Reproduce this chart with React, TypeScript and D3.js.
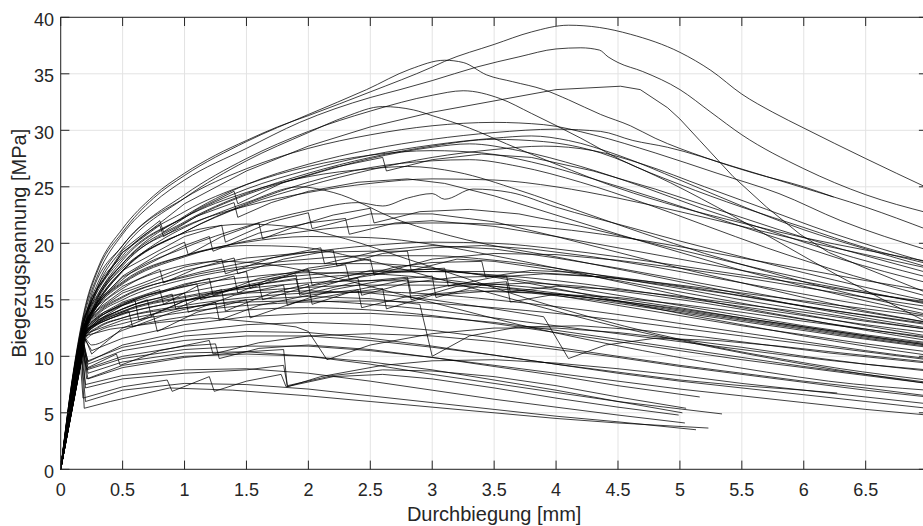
import React from 'react';
import * as d3 from 'd3';

type Pt = [number, number];

// axis ticks
const xTicks = [0, 0.5, 1, 1.5, 2, 2.5, 3, 3.5, 4, 4.5, 5, 5.5, 6, 6.5, 7];
const xTickLabels = ['0', '0.5', '1', '1.5', '2', '2.5', '3', '3.5', '4', '4.5', '5', '5.5', '6', '6.5'];
const yTicks = [0, 5, 10, 15, 20, 25, 30, 35, 40];
const yTickLabels = ['0', '5', '10', '15', '20', '25', '30', '35', '40'];
const xLabel = 'Durchbiegung [mm]';
const yLabel = 'Biegezugspannung [MPa]';

// ---- specimen curves: [Durchbiegung mm, Biegezugspannung MPa] ----
// high strength group
const u01: Pt[] = [[0,0],[0.1,8.5],[0.2,14.5],[0.3,17.8],[0.5,21.3],[0.75,24.2],[1,26.2],[1.25,27.8],[1.5,29.1],[1.75,30.3],[2,31.3],[2.5,33.4],[3,35.6],[3.1,36.1],[3.5,37.6],[3.8,38.7],[4.1,39.3],[4.35,39.1],[4.6,38.5],[5,36.9],[5.25,35.3],[5.5,33.2],[5.75,31.6],[6,30.2],[6.5,27.5],[7,24.9]];
const u02: Pt[] = [[0,0],[0.1,8.2],[0.2,14],[0.3,17.2],[0.5,20.8],[0.75,23.6],[1,25.6],[1.5,28.4],[1.93,30.7],[2.5,32.9],[2.74,33.6],[3,34.4],[3.36,35.6],[3.7,36.5],[4.0,37.2],[4.2,37.3],[4.35,37.1],[4.42,36.5],[4.5,36],[4.7,35.2],[5,33.6],[5.25,31.6],[5.5,29.6],[6,26.6],[6.5,24.3],[7,22.7]];
const u03: Pt[] = [[0,0],[0.1,8.4],[0.2,14.3],[0.3,17.6],[0.5,21],[0.75,24],[1,26],[1.5,29],[2,31.4],[2.47,33.6],[2.82,35.4],[3.1,36.2],[3.25,36.0],[3.44,34.9],[3.65,34.3],[3.9,33.6],[4.1,32.7],[4.36,31.4],[4.6,30.4],[4.8,29.3],[5.2,27.6],[5.6,26.2],[6,25],[6.24,24.1]];
const u04: Pt[] = [[0,0],[0.1,7.8],[0.2,13],[0.3,16],[0.5,19.2],[1,23.5],[1.5,26.4],[2,28.6],[2.5,30.3],[3,31.6],[3.55,32.7],[4,33.6],[4.52,33.9],[4.68,33.6],[4.9,32.0],[5.0,31.0],[5.16,29.1],[5.43,25.9],[5.7,23.2],[5.97,20.8],[6.2,19.2],[6.5,17.8],[7,15.6]];
const u05: Pt[] = [[0,0],[0.1,8],[0.2,13.5],[0.3,16.5],[0.5,19.8],[1,24.3],[1.5,27.5],[2,29.9],[2.5,31.7],[3,33.1],[3.25,33.5],[3.55,32.8],[3.8,31.5],[4.2,29.3],[4.52,27.4],[5,25.2],[5.5,23.2],[6,21.4],[6.5,19.6],[7,18.2]];
const u06: Pt[] = [[0,0],[0.1,7.9],[0.2,13.2],[0.3,16.2],[0.5,19.5],[1,24],[1.5,27.3],[2,29.8],[2.3,31.2],[2.6,32.1],[2.85,31.8],[3.0,31.3],[3.3,30.2],[3.6,28.8],[4,27.0],[4.5,24.9],[5,23.2],[5.5,21.8],[6,20.5],[6.5,19.4],[7,18.4]];
const u07: Pt[] = [[0,0],[0.1,7.5],[0.2,12.6],[0.3,15.2],[0.5,18.2],[1,22.4],[1.5,25.2],[2,27],[2.5,28.3],[3,29.2],[3.5,29.8],[4,30.1],[4.36,29.9],[4.62,29.1],[4.9,28.5],[5.43,26.8],[5.97,25.0],[6.5,23.2],[7,21.2]];
const u08: Pt[] = [[0,0],[0.1,7.6],[0.2,12.8],[0.3,15.4],[0.5,18.5],[1,22.3],[1.5,24.8],[2,26.5],[2.5,27.8],[3,28.7],[3.5,29.3],[3.8,29.5],[4.1,29.1],[4.5,27.8],[5,25.6],[5.5,23.3],[6,21.2],[6.5,19.5],[7,17.9]];
const u09: Pt[] = [[0,0],[0.1,7.3],[0.2,12.3],[0.3,15],[0.5,18],[1,21.8],[1.5,24.3],[2,26],[2.5,27.5],[3,28.5],[3.3,28.8],[3.7,28.2],[4.2,26.8],[4.7,25],[5.2,23],[5.7,21.2],[6.2,19.4],[7,17.0]];
const u10: Pt[] = [[0,0],[0.1,7.4],[0.2,12.2],[0.3,14.8],[0.5,17.6],[1,21],[1.5,23.4],[2,25.1],[2.5,26.5],[3,27.6],[3.5,28.3],[3.9,28.6],[4.3,28.2],[4.7,27],[5.2,25],[5.7,23],[6.2,21],[6.6,19.6],[7,18.3]];
const u11: Pt[] = [[0,0],[0.1,7.5],[0.2,12.5],[0.3,15.2],[0.5,18.2],[1,21.9],[1.5,24.4],[2,26.2],[2.5,27.6],[3,28.6],[3.5,29.2],[3.9,29.0],[4.36,28.0],[4.8,26],[5.3,23.2],[5.8,20.1],[6.3,17],[7,13.0]];
const u12: Pt[] = [[0,0],[0.1,7.2],[0.2,12],[0.3,14.6],[0.5,17.5],[1,21],[1.5,23.5],[2,25.4],[2.5,26.7],[3,27.3],[3.3,27.4],[3.7,26.8],[4.2,25.4],[4.7,23.6],[5.2,21.6],[5.7,19.6],[6.2,17.8],[7,15.3]];
const u13: Pt[] = [[0,0],[0.15,11],[0.25,15.5],[0.5,19.8],[1,24.0],[1.5,26.6],[2,28.4],[2.5,29.6],[3,30.4],[3.5,30.7],[3.9,30.5],[4.3,29.6],[4.8,28.0],[5.3,26.2],[5.8,24.4],[6.3,22.0],[7,19.4]];
const u14: Pt[] = [[0,0],[0.15,10.6],[0.25,14.8],[0.5,18.9],[1,22.8],[1.5,25.2],[2,26.8],[2.5,27.8],[3,28.2],[3.4,28.0],[3.8,27.2],[4.3,25.7],[4.8,24.0],[5.3,22.2],[5.8,20.4],[6.3,18.6],[7,16.5]];
const u15: Pt[] = [[0,0],[0.15,10.8],[0.25,15.2],[0.5,19.4],[0.8,22.0],[0.83,21.0],[1.1,23.0],[1.4,24.6],[1.43,23.5],[1.8,25.4],[2.2,26.7],[2.6,27.6],[2.63,26.4],[3,27.4],[3.4,27.9],[3.8,27.6],[4.3,26.4],[4.8,24.8],[5.3,23.0],[5.8,21.2],[6.3,19.5],[7,17.4]];

// upper middle group
const m01: Pt[] = [[0,0],[0.12,8.5],[0.2,12.5],[0.3,14.5],[0.5,16.8],[1,19.6],[1.5,21.5],[2,22.9],[2.4,23.6],[2.6,23.3],[2.8,24],[3.0,24.4],[3.1,23.9],[3.33,24.8],[3.63,24.5],[4.0,23.2],[4.6,21.4],[5,20.2],[5.5,18.8],[6,17.4],[6.5,16.1],[7,14.9]];
const m02: Pt[] = [[0,0],[0.1,7.6],[0.2,12.4],[0.3,14.8],[0.5,17.6],[0.8,20.2],[1,21.4],[1.3,22.8],[1.5,23.6],[1.93,25.0],[2.2,24.5],[2.74,22.0],[3.28,20.3],[4,18.8],[4.6,17.5],[5,16.6],[5.5,15.5],[6,14.4],[6.5,13.4],[7,12.5]];
const m03: Pt[] = [[0,0],[0.18,12.8],[0.3,15.5],[0.5,18.2],[1,21.5],[1.5,23.3],[2,24.5],[2.5,25.3],[3,25.7],[3.5,25.6],[4,25.0],[4.5,24.0],[5,22.8],[5.5,21.5],[6,20.2],[6.5,19.0],[7,17.8]];
const m04: Pt[] = [[0,0],[0.18,13],[0.3,15.8],[0.5,18.7],[1,22.3],[1.5,24.5],[2,25.9],[2.5,26.6],[2.8,26.8],[3.2,26.3],[3.7,24.7],[4.2,22.8],[4.7,20.9],[5.2,19.1],[5.7,17.5],[6.2,16.0],[7,14.0]];
const m05: Pt[] = [[0,0],[0.18,13.2],[0.3,16.1],[0.5,19.2],[0.8,21.6],[0.83,20.6],[1.1,22.4],[1.4,23.6],[1.43,22.3],[1.7,23.6],[2,24.6],[2.4,25.4],[2.8,25.7],[3.1,25.3],[3.5,24.2],[4,22.5],[4.5,20.8],[5,19.2],[5.5,17.6],[6,16.2],[6.5,14.9],[7,13.7]];
const m06: Pt[] = [[0,0],[0.18,12.6],[0.3,15.0],[0.5,17.6],[1,20.6],[1.3,21.6],[1.33,20.1],[1.7,21.9],[2,22.7],[2.03,21.3],[2.5,22.6],[3,22.6],[3.5,21.9],[4,20.6],[4.5,19.2],[5,17.8],[5.5,16.5],[6,15.2],[6.5,14.0],[7,13.0]];
const m07: Pt[] = [[0,0],[0.18,12.5],[0.3,14.8],[0.5,17.1],[0.8,19.1],[1.0,20.1],[1.03,19.0],[1.3,20.6],[1.6,21.8],[1.63,20.4],[1.9,21.5],[2.2,22.5],[2.5,23.1],[2.53,21.8],[2.9,22.8],[3.3,23.0],[3.7,22.6],[4.2,21.5],[4.7,20.2],[5.2,18.9],[5.7,17.6],[6.2,16.4],[7,14.6]];
const m08: Pt[] = [[0,0],[0.2,12.9],[0.3,14.5],[0.5,16.4],[1,18.8],[1.5,20.2],[2,21.1],[2.5,21.6],[3,21.8],[3.5,21.7],[4,21.3],[4.5,20.6],[5,19.7],[5.5,18.7],[6,17.7],[6.5,16.7],[7,15.8]];
const m09: Pt[] = [[0,0],[0.2,13.1],[0.3,14.9],[0.5,17.0],[1,19.8],[1.2,20.6],[1.23,19.3],[1.6,20.9],[2,21.8],[2.3,22.2],[2.33,20.8],[2.7,21.8],[3,22.0],[3.5,21.5],[4,20.6],[4.5,19.6],[5,18.6],[5.5,17.6],[6,16.6],[6.5,15.6],[7,14.7]];
const m10: Pt[] = [[0,0],[0.18,12.8],[0.3,15.3],[0.5,17.8],[0.8,20],[1.1,21.2],[1.5,21.7],[1.9,21.4],[2.3,20.4],[2.8,18.6],[3.3,16.8],[3.8,15.0],[4.3,13.4],[4.8,12.0],[5.3,10.8],[5.8,9.8],[6.3,8.9],[7,7.9]];
const m11: Pt[] = [[0,0],[0.19,12.5],[0.3,14.6],[0.5,16.6],[1,18.9],[1.5,19.8],[1.9,19.7],[2.4,18.7],[3,17.0],[3.5,15.5],[4,14.0],[4.5,12.6],[5,11.4],[5.5,10.3],[6,9.3],[6.5,8.4],[7,7.6]];
const m12: Pt[] = [[0,0],[0.19,12.3],[0.3,14.2],[0.5,16.0],[0.9,17.8],[1.3,18.4],[1.7,18.1],[2.2,17.0],[2.7,15.6],[3.2,14.2],[3.7,12.8],[4.2,11.6],[4.7,10.5],[5.2,9.5],[5.7,8.6],[6.2,7.8],[7,7.0]];
const m13: Pt[] = [[0,0],[0.2,12.9],[0.3,14.6],[0.5,16.5],[1,18.9],[1.5,20.1],[2,20.6],[2.5,20.5],[3,19.9],[3.5,18.9],[4,17.8],[4.5,16.6],[5,15.4],[5.5,14.3],[6,13.3],[6.5,12.3],[7,11.4]];
const m14: Pt[] = [[0,0],[0.19,12.7],[0.3,14.5],[0.5,16.2],[0.8,17.7],[0.83,16.5],[1.1,17.8],[1.4,18.7],[1.43,17.3],[1.8,18.6],[2.2,19.4],[2.23,18.0],[2.6,19.1],[3,19.6],[3.4,19.8],[3.8,19.5],[4.3,18.8],[4.8,17.9],[5.3,16.9],[5.8,15.9],[6.3,14.9],[7,13.6]];

// dense middle group
const d01: Pt[] = [[0,0],[0.2,12.5],[0.3,13.8],[0.5,15.2],[1,17.1],[1.5,18.3],[2,19.2],[2.5,19.8],[3,20.1],[3.5,20.0],[4,19.5],[4.5,18.8],[5,18],[5.5,17.2],[6,16.4],[6.5,15.6],[7,14.8]];
const d02: Pt[] = [[0,0],[0.2,12.2],[0.3,13.4],[0.5,14.7],[1,16.4],[1.5,17.5],[1.53,16.0],[2,17.8],[2.5,18.6],[2.53,17.2],[3,18.6],[3.5,19.1],[4,19.0],[4.5,18.5],[5,17.8],[5.5,17],[6,16.1],[6.5,15.2],[7,14.4]];
const d03: Pt[] = [[0,0],[0.2,12.4],[0.3,13.6],[0.5,14.8],[0.8,15.9],[0.83,14.6],[1.1,16.2],[1.4,17.1],[1.43,15.6],[1.7,16.9],[2,17.6],[2.3,18.1],[2.33,16.8],[2.7,17.9],[3,18.3],[3.4,18.4],[3.43,17.0],[3.8,17.6],[4.2,17.4],[4.7,16.7],[5.2,15.9],[5.7,15.0],[6.2,14.1],[7,12.8]];
const d04: Pt[] = [[0,0],[0.2,12.0],[0.3,13.0],[0.5,14.2],[1,15.6],[1.5,16.6],[2,17.2],[2.5,17.5],[3,17.5],[3.5,17.2],[4,16.7],[4.5,16],[5,15.2],[5.5,14.4],[6,13.6],[6.5,12.8],[7,12.1]];
const d05: Pt[] = [[0,0],[0.19,12.6],[0.3,13.5],[0.6,15.0],[0.63,13.2],[1,14.9],[1.3,15.9],[1.33,14.0],[1.7,15.6],[2,16.4],[2.03,14.6],[2.4,15.9],[2.8,16.8],[2.83,15.0],[3.2,16.2],[3.6,16.6],[3.63,14.8],[4,15.5],[4.5,15.2],[5,14.6],[5.5,13.9],[6,13.1],[6.5,12.4],[7,11.7]];
const d06: Pt[] = [[0,0],[0.2,11.8],[0.3,12.9],[0.5,13.9],[1,15.2],[1.5,16.0],[2,16.5],[2.5,16.7],[3,16.6],[3.5,16.2],[4,15.6],[4.5,14.8],[5,14.0],[5.5,13.2],[6,12.4],[6.5,11.6],[7,10.9]];
const d07: Pt[] = [[0,0],[0.2,12.1],[0.3,13.2],[0.5,14.5],[1,16.3],[1.2,16.9],[1.23,15.4],[1.6,16.9],[2,17.7],[2.03,16.3],[2.5,17.6],[3,17.7],[3.5,17.1],[4,16.3],[4.5,15.4],[5,14.5],[5.5,13.6],[6,12.7],[6.5,11.9],[7,11.2]];
const d08: Pt[] = [[0,0],[0.2,11.5],[0.25,10.2],[0.5,12.5],[0.75,13.6],[0.78,12.2],[1.1,13.9],[1.5,15.0],[1.53,13.4],[1.9,14.8],[2.3,15.6],[2.6,16.0],[2.63,14.2],[3,15.4],[3.5,15.8],[4,15.5],[4.5,14.9],[5,14.2],[5.5,13.4],[6,12.6],[6.5,11.8],[7,11.0]];
const d09: Pt[] = [[0,0],[0.2,11.6],[0.3,12.5],[0.5,13.4],[1,14.5],[1.5,15.2],[2,15.6],[2.5,15.7],[3,15.5],[3.5,15.0],[4,14.4],[4.5,13.7],[5,12.9],[5.5,12.1],[6,11.3],[6.5,10.5],[7,9.8]];
const d10: Pt[] = [[0,0],[0.19,12.0],[0.3,13.0],[0.6,14.4],[1.0,15.6],[1.03,13.9],[1.4,15.4],[1.8,16.3],[1.83,14.5],[2.2,15.9],[2.6,16.7],[3.0,17.1],[3.03,15.2],[3.4,16.3],[3.8,16.5],[4.2,16.2],[4.7,15.5],[5.2,14.7],[5.7,13.8],[6.2,12.9],[7,11.6]];
const d11: Pt[] = [[0,0],[0.2,12.8],[0.3,14.2],[0.5,15.8],[1,17.9],[1.3,18.6],[1.33,17.3],[1.7,18.7],[2.1,19.6],[2.13,18.2],[2.6,19.4],[3,19.8],[3.5,19.5],[4,18.7],[4.5,17.8],[5,16.8],[5.5,15.8],[6,14.8],[6.5,13.9],[7,13.0]];
const d12: Pt[] = [[0,0],[0.2,12.6],[0.3,13.9],[0.5,15.3],[1,17.0],[1.5,18.0],[2,18.6],[2.5,18.9],[3,18.9],[3.5,18.5],[4,17.8],[4.5,16.9],[5,16.0],[5.5,15.0],[6,14.1],[6.5,13.2],[7,12.4]];
const d13: Pt[] = [[0,0],[0.2,12.3],[0.35,13.5],[0.6,14.6],[0.9,15.5],[0.93,14.2],[1.2,15.5],[1.6,16.4],[1.63,15.0],[2,16.2],[2.4,16.9],[2.43,15.4],[2.8,16.5],[3.2,17.0],[3.6,17.1],[3.63,15.7],[4,16.2],[4.5,15.9],[5,15.3],[5.5,14.6],[6,13.9],[6.5,13.1],[7,12.4]];
const d14: Pt[] = [[0,0],[0.2,11.9],[0.3,12.8],[0.5,13.7],[1,14.9],[1.5,15.7],[2,16.1],[2.5,16.3],[3,16.3],[3.5,16.0],[4,15.5],[4.5,14.9],[5,14.1],[5.5,13.3],[6,12.5],[6.5,11.7],[7,11.0]];
const d15: Pt[] = [[0,0],[0.2,12.2],[0.3,13.2],[0.5,14.2],[0.7,15.0],[0.73,13.6],[1,14.9],[1.5,16.2],[1.9,16.9],[1.93,15.4],[2.4,16.6],[2.8,17.0],[2.83,15.6],[3.2,16.4],[3.5,16.4],[4,15.9],[4.5,15.1],[5,14.3],[5.5,13.4],[6,12.6],[6.5,11.8],[7,11.1]];
const d16: Pt[] = [[0,0],[0.19,11.9],[0.3,12.9],[0.55,14.0],[0.58,12.6],[0.9,13.9],[1.25,14.8],[1.28,13.2],[1.6,14.5],[2,15.4],[2.4,15.9],[2.43,14.3],[2.8,15.3],[3.3,15.8],[3.8,15.6],[4.3,15.0],[4.8,14.2],[5.3,13.4],[5.8,12.6],[6.3,11.8],[7,10.8]];
const d17: Pt[] = [[0,0],[0.2,12.7],[0.3,14.1],[0.5,15.6],[1,17.6],[1.5,18.7],[2,19.2],[2.5,19.3],[2.8,19.3],[2.83,17.6],[3.2,18.6],[3.5,18.4],[4,17.6],[4.5,16.7],[5,15.7],[5.5,14.7],[6,13.7],[6.5,12.7],[7,11.8]];
const d18: Pt[] = [[0,0],[0.2,12.0],[0.3,13.0],[0.5,14.0],[1,15.3],[1.5,16.2],[2,16.9],[2.5,17.3],[3,17.5],[3.5,17.5],[4,17.3],[4.5,16.9],[5,16.3],[5.5,15.6],[6,14.9],[6.5,14.2],[7,13.5]];
const d19: Pt[] = [[0,0],[0.2,12.5],[0.35,13.9],[0.7,15.4],[1.1,16.4],[1.13,15.0],[1.5,16.3],[1.9,17.2],[1.93,15.6],[2.3,16.8],[2.7,17.5],[3.1,17.8],[3.13,16.2],[3.5,17.0],[3.9,17.3],[4.4,17.0],[4.9,16.3],[5.4,15.5],[5.9,14.6],[6.4,13.8],[7,12.9]];
const d20: Pt[] = [[0,0],[0.2,11.4],[0.3,12.2],[0.5,12.9],[1,13.9],[1.5,14.5],[2,14.8],[2.5,14.9],[3,14.7],[3.5,14.3],[4,13.8],[4.5,13.2],[5,12.5],[5.5,11.8],[6,11.1],[6.5,10.4],[7,9.7]];
const d21: Pt[] = [[0,0],[0.2,11.7],[0.3,12.6],[0.5,13.4],[1,14.3],[1.5,14.8],[2,14.9],[2.5,14.6],[3,14.1],[3.5,13.4],[4,12.7],[4.5,12.0],[5,11.3],[5.5,10.6],[6,9.9],[6.5,9.3],[7,8.8]];
const d22: Pt[] = [[0,0],[0.2,12.4],[0.3,13.7],[0.5,15.0],[1,16.8],[1.5,17.8],[2,18.2],[2.5,18.2],[3,17.8],[3.5,17.0],[4,16.0],[4.5,14.9],[5,13.8],[5.5,12.8],[6,11.8],[6.5,10.9],[7,10.1]];
const d23: Pt[] = [[0,0],[0.2,12.1],[0.3,13.3],[0.5,14.6],[1,16.2],[1.5,17.0],[2,17.4],[2.5,17.3],[3,16.9],[3.5,16.2],[4,15.4],[4.5,14.5],[5,13.6],[5.5,12.7],[6,11.9],[6.5,11.1],[7,10.4]];

// lower group
const l01: Pt[] = [[0,0],[0.18,11.5],[0.22,9.5],[0.5,11],[1,12.2],[1.5,12.8],[2,13.0],[2.5,12.8],[3,12.3],[3.5,11.6],[4,10.8],[4.5,10.0],[5,9.2],[5.5,8.5],[6,7.8],[6.5,7.2],[7,6.5]];
const l02: Pt[] = [[0,0],[0.18,11.8],[0.25,10.5],[0.5,11.6],[1,12.8],[1.5,13.5],[2,13.8],[2.5,13.8],[3,13.5],[3.5,13.0],[4,12.3],[4.5,11.5],[5,10.7],[5.5,9.9],[6,9.1],[6.5,8.4],[7,7.7]];
const l03: Pt[] = [[0,0],[0.19,11.8],[0.4,12.4],[0.8,13.0],[1.2,13.4],[1.6,13.0],[1.9,12.6],[2.0,12.2],[2.15,9.7],[2.5,11.0],[3.0,12.0],[3.5,12.5],[4,12.5],[4.5,12.1],[5,11.5],[5.5,10.8],[6,10.0],[6.5,9.3],[7,8.7]];
const l04: Pt[] = [[0,0],[0.2,12.4],[0.5,13.8],[1,15.0],[1.5,15.6],[2,15.8],[2.5,15.6],[3,15.0],[3.5,14.2],[3.9,13.5],[4.1,9.8],[4.4,11.0],[4.8,11.6],[5.3,11.4],[5.8,10.9],[6.3,10.3],[7,9.5]];
const l05: Pt[] = [[0,0],[0.2,12.0],[0.5,13.2],[1,14.3],[1.5,15.0],[2,15.3],[2.5,15.1],[2.9,14.6],[3.0,10.0],[3.3,11.8],[3.7,12.6],[4.2,12.7],[4.7,12.3],[5.2,11.7],[5.7,11.0],[6.2,10.3],[7,9.4]];
const l06: Pt[] = [[0,0],[0.18,10.5],[0.22,8.0],[0.5,9.0],[1,9.9],[1.5,10.4],[1.8,10.6],[1.83,7.3],[2.1,8.2],[2.6,9.2],[3,9.6],[3.5,9.7],[4,9.4],[4.5,8.9],[5,8.3],[5.5,7.6],[6,7.0],[6.5,6.4],[7,5.8]];
const l07: Pt[] = [[0,0],[0.18,10.6],[0.21,8.8],[0.5,9.8],[1,10.6],[1.5,10.9],[2,10.9],[2.5,10.5],[3,9.9],[3.5,9.2],[4,8.5],[4.5,7.8],[5,7.1],[5.5,6.5],[6,5.9],[6.5,5.3],[7,4.8]];
const l08: Pt[] = [[0,0],[0.18,11.0],[0.22,9.3],[0.5,10.5],[1,11.4],[1.5,11.8],[2,11.8],[2.5,11.4],[3,10.8],[3.5,10.1],[4,9.3],[4.5,8.5],[5,7.8],[5.5,7.2],[6,6.6],[6.5,6.0],[7,5.4]];
const l09: Pt[] = [[0,0],[0.18,11.2],[0.22,9.6],[0.5,10.8],[1,11.8],[1.5,12.2],[2,12.1],[2.5,11.6],[3,10.9],[3.5,10.1],[4,9.3],[4.5,8.6],[5,7.9],[5.5,7.4],[6,7.0],[6.27,6.75]];
const l10: Pt[] = [[0,0],[0.19,11.6],[0.25,11.0],[0.5,12.3],[1,13.5],[1.5,14.1],[2,14.3],[2.5,14.1],[3,13.6],[3.5,12.9],[4,12.1],[4.5,11.3],[5,10.5],[5.5,9.7],[6,9.0],[6.5,8.3],[7,7.6]];
const l11: Pt[] = [[0,0],[0.18,11.0],[0.22,9.0],[0.45,10.2],[0.48,9.2],[0.8,10.5],[1.2,11.4],[1.23,10.2],[1.6,11.2],[2,11.8],[2.5,12.0],[3,11.8],[3.5,11.3],[4,10.6],[4.5,9.9],[5,9.1],[5.5,8.4],[6,7.7],[6.5,7.0],[7,6.4]];

// short low curves (ending near 5 mm)
const s01: Pt[] = [[0,0],[0.17,9.8],[0.19,5.4],[0.4,6.0],[0.88,7.2],[1.39,7.0],[2.0,6.5],[2.5,6.0],[3,5.5],[3.5,5.0],[4,4.5],[4.5,4.1],[5.23,3.65]];
const s02: Pt[] = [[0,0],[0.17,9.8],[0.2,6.0],[0.5,7.0],[1,7.6],[1.5,7.5],[2,7.1],[2.5,6.5],[3,5.9],[3.5,5.3],[4,4.7],[4.5,4.2],[5.13,3.5]];
const s03: Pt[] = [[0,0],[0.17,10],[0.2,7.5],[0.5,8.3],[1,8.8],[1.5,8.9],[2,8.5],[2.5,7.8],[3,7.0],[3.5,6.2],[4,5.5],[4.5,4.8],[5.04,4.1]];
const s04: Pt[] = [[0,0],[0.16,9.3],[0.18,6.3],[0.5,7.3],[0.86,7.9],[0.9,6.9],[1.2,8.2],[1.24,6.9],[1.5,7.8],[1.78,8.4],[1.82,7.3],[2.2,8.2],[2.6,8.4],[3,8.0],[3.5,7.2],[4,6.3],[4.5,5.5],[4.99,4.8]];
const s05: Pt[] = [[0,0],[0.18,10.5],[0.21,8.0],[0.5,9.2],[1,10],[1.5,10.2],[2,10],[2.5,9.5],[3,8.8],[3.5,7.9],[4,7.0],[4.5,6.0],[5.02,5.0]];
const s06: Pt[] = [[0,0],[0.18,10.3],[0.2,7.2],[0.5,8.0],[1,8.5],[1.5,8.8],[1.8,9.2],[1.83,7.4],[2.2,8.3],[2.6,8.8],[3,8.7],[3.5,8.2],[4,7.4],[4.5,6.4],[5.05,5.4]];
const s07: Pt[] = [[0,0],[0.19,11],[0.22,8.5],[0.5,9.5],[1,10.3],[1.5,10.4],[2,10],[2.5,9.3],[3,8.4],[3.5,7.6],[4,6.8],[4.5,6.0],[5.34,4.9]];
const s08: Pt[] = [[0,0],[0.18,10.8],[0.21,8.9],[0.5,10.0],[1,10.9],[1.25,11.1],[1.28,9.8],[1.6,10.7],[2,11.0],[2.5,10.6],[3,9.9],[3.5,9.1],[4,8.3],[4.5,7.4],[5.16,6.4]];

const curves: Pt[][] = [
  u01, u02, u03, u04, u05, u06, u07, u08, u09, u10, u11, u12, u13, u14, u15,
  m01, m02, m03, m04, m05, m06, m07, m08, m09, m10, m11, m12, m13, m14,
  d01, d02, d03, d04, d05, d06, d07, d08, d09, d10, d11, d12, d13, d14, d15, d16, d17, d18, d19, d20, d21, d22, d23,
  l01, l02, l03, l04, l05, l06, l07, l08, l09, l10, l11,
  s01, s02, s03, s04, s05, s06, s07, s08,
];

const W = 923;
const H = 526;
const PLOT = { left: 60.7, top: 17.3, right: 927.6, bottom: 469.3 };
const TICK = 8.7;
const AXIS_COLOR = '#262626';
const FONT = '"Liberation Sans", Arial, Helvetica, sans-serif';

// a curve with abrupt load drops is drawn as a polyline so the drops stay sharp
function hasDrop(c: Pt[]): boolean {
  for (let i = 1; i < c.length; i++) {
    const dx = c[i][0] - c[i - 1][0];
    const dy = c[i - 1][1] - c[i][1];
    if ((dx < 0.1 && dy > 0.8) || (dx < 0.25 && dy > 2)) return true;
  }
  return false;
}

export default function App() {
  const x = d3.scaleLinear().domain([0, 7]).range([PLOT.left, PLOT.right]);
  const y = d3.scaleLinear().domain([0, 40]).range([PLOT.bottom, PLOT.top]);
  const smooth = d3
    .line<Pt>()
    .x((d) => x(d[0]))
    .y((d) => y(d[1]))
    .curve(d3.curveMonotoneX);
  const jagged = d3
    .line<Pt>()
    .x((d) => x(d[0]))
    .y((d) => y(d[1]))
    .curve(d3.curveLinear);

  return (
    <svg
      width={W}
      height={H}
      viewBox={`0 0 ${W} ${H}`}
      style={{ position: 'absolute', left: 0, top: 0, display: 'block', background: '#fff' }}
    >
      <rect x={0} y={0} width={W} height={H} fill="#fff" />
      {/* grid */}
      <g stroke="#e3e3e3" strokeWidth={1}>
        {xTicks.map((t) => (
          <line key={'gx' + t} x1={x(t)} x2={x(t)} y1={PLOT.top} y2={PLOT.bottom} />
        ))}
        {yTicks.map((t) => (
          <line key={'gy' + t} x1={PLOT.left} x2={PLOT.right} y1={y(t)} y2={y(t)} />
        ))}
      </g>
      {/* data */}
      <g fill="none" stroke="#000" strokeWidth={0.75} strokeLinejoin="round">
        {curves.map((c, i) => (
          <path key={i} d={(hasDrop(c) ? jagged(c) : smooth(c)) || ''} />
        ))}
      </g>
      {/* axes box & ticks */}
      <g stroke={AXIS_COLOR} strokeWidth={1} fill="none">
        <rect x={PLOT.left} y={PLOT.top} width={PLOT.right - PLOT.left} height={PLOT.bottom - PLOT.top} />
        {xTicks.map((t) => (
          <g key={'tx' + t}>
            <line x1={x(t)} x2={x(t)} y1={PLOT.bottom} y2={PLOT.bottom - TICK} />
            <line x1={x(t)} x2={x(t)} y1={PLOT.top} y2={PLOT.top + TICK} />
          </g>
        ))}
        {yTicks.map((t) => (
          <g key={'ty' + t}>
            <line x1={PLOT.left} x2={PLOT.left + TICK} y1={y(t)} y2={y(t)} />
            <line x1={PLOT.right} x2={PLOT.right - TICK} y1={y(t)} y2={y(t)} />
          </g>
        ))}
      </g>
      {/* tick labels */}
      <g fill={AXIS_COLOR} fontFamily={FONT} fontSize={18}>
        {xTickLabels.map((lab, i) => (
          <text key={'lx' + i} x={x(xTicks[i])} y={PLOT.bottom + 26.7} textAnchor="middle">
            {lab}
          </text>
        ))}
        {yTicks.map((t, i) => (
          <text key={'ly' + t} x={PLOT.left - 6.7} y={y(t) + 8.3} textAnchor="end">
            {yTickLabels[i]}
          </text>
        ))}
      </g>
      {/* axis labels */}
      <text
        x={(PLOT.left + PLOT.right) / 2}
        y={520.7}
        textAnchor="middle"
        fill={AXIS_COLOR}
        fontFamily={FONT}
        fontSize={20}
      >
        {xLabel}
      </text>
      <text
        transform={`translate(26, ${(PLOT.top + PLOT.bottom) / 2}) rotate(-90)`}
        textAnchor="middle"
        fill={AXIS_COLOR}
        fontFamily={FONT}
        fontSize={20}
      >
        {yLabel}
      </text>
    </svg>
  );
}
